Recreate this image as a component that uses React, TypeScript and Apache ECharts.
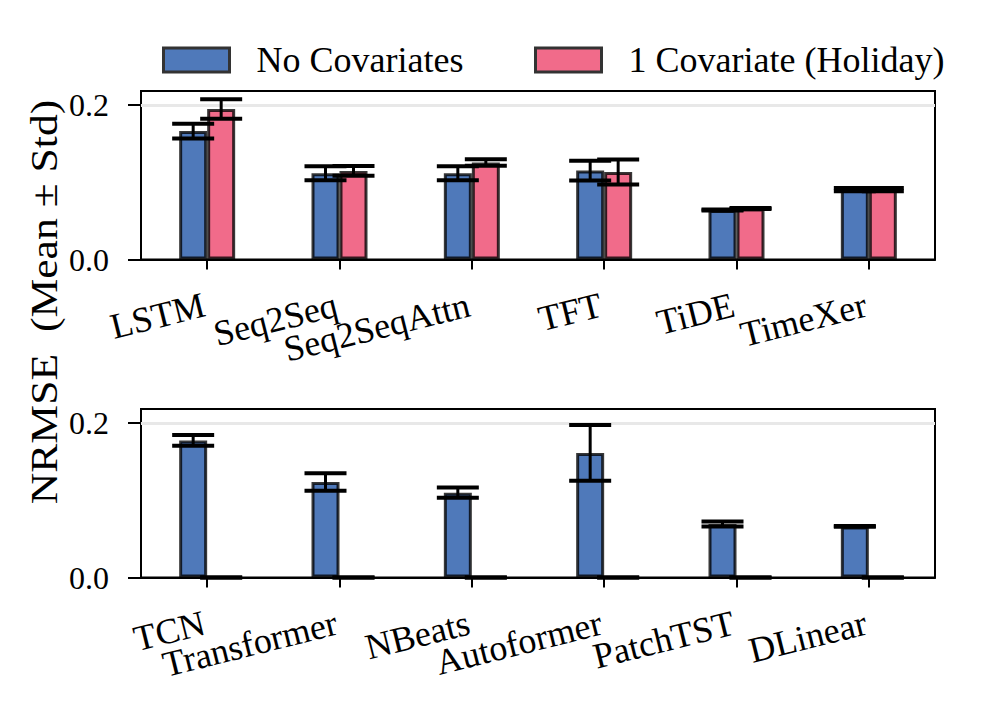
import React, { useEffect, useRef } from "react";
import * as echarts from "echarts";

const topCategories = ["LSTM", "Seq2Seq", "Seq2SeqAttn", "TFT", "TiDE", "TimeXer"];
const topNoCovMean = [0.166, 0.1115, 0.1115, 0.115, 0.064, 0.0902];
const topNoCovStd = [0.0096, 0.009, 0.009, 0.0128, 0.0006, 0.0021];
const topHolidayMean = [0.1945, 0.1145, 0.1255, 0.113, 0.066, 0.0902];
const topHolidayStd = [0.0125, 0.0064, 0.0042, 0.0162, 0.0006, 0.0021];

const bottomCategories = ["TCN", "Transformer", "NBeats", "Autoformer", "PatchTST", "DLinear"];
const bottomNoCovMean = [0.1772, 0.1233, 0.1097, 0.161, 0.0692, 0.066];
const bottomNoCovStd = [0.007, 0.0113, 0.0067, 0.036, 0.0032, 0.0005];
const bottomHolidayMean = [0, 0, 0, 0, 0, 0];
const bottomHolidayStd = [0, 0, 0, 0, 0, 0];

const yTicks = [0, 0.2];
const seriesNames = ["No Covariates", "1 Covariate (Holiday)"];
const yLabel = "NRMSE\u00a0 (Mean \u00b1 Std)";

const FONT = "'Liberation Serif', 'DejaVu Serif', serif";
const BLUE = "#4f79ba";
const PINK = "#f16b8a";
const EDGE = "rgba(0,0,0,0.78)";
const BAR_W = 28;
const Y_MAX = 0.2178;

function errorSeries(means: number[], stds: number[], offset: number, axisIndex: number) {
  return {
    type: "custom",
    xAxisIndex: axisIndex,
    yAxisIndex: axisIndex,
    silent: true,
    z: 10,
    clip: false,
    data: means.map((m, i) => [i, m - stds[i], m + stds[i]]),
    encode: { x: 0, y: [1, 2] },
    renderItem: (params: any, api: any) => {
      const idx = api.value(0);
      const lo = api.coord([idx, api.value(1)]);
      const hi = api.coord([idx, api.value(2)]);
      const cx = lo[0] + offset;
      const half = 21;
      return {
        type: "group",
        children: [
          { type: "line", shape: { x1: cx, y1: hi[1], x2: cx, y2: lo[1] }, style: { stroke: "#000", lineWidth: 3 } },
          { type: "line", shape: { x1: cx - half, y1: hi[1], x2: cx + half, y2: hi[1] }, style: { stroke: "#000", lineWidth: 4 } },
          { type: "line", shape: { x1: cx - half, y1: lo[1], x2: cx + half, y2: lo[1] }, style: { stroke: "#000", lineWidth: 4 } },
        ],
      };
    },
  };
}

function barSeries(name: string, data: number[], color: string, axisIndex: number, withGrid: boolean) {
  const s: any = {
    name,
    type: "bar",
    xAxisIndex: axisIndex,
    yAxisIndex: axisIndex,
    data,
    barWidth: BAR_W,
    barGap: "0%",
    itemStyle: { color, borderColor: EDGE, borderWidth: 3 },
    z: 3,
  };
  if (withGrid) {
    s.markLine = {
      silent: true,
      symbol: ["none", "none"],
      label: { show: false },
      lineStyle: { color: "#e8e8e8", width: 3, type: "solid" },
      data: [{ yAxis: 0.2 }],
      z: 1,
    };
  }
  return s;
}

function xAxisCfg(cats: string[], gridIndex: number) {
  return {
    type: "category",
    gridIndex,
    data: cats,
    axisLine: { show: true, lineStyle: { color: "#000", width: 2 } },
    axisTick: { show: true, alignWithLabel: true, length: 10, lineStyle: { color: "#000", width: 2 } },
    axisLabel: {
      interval: 0,
      rotate: 14,
      margin: 44,
      fontSize: 36,
      fontFamily: FONT,
      color: "#000",
      padding: [0, 3, 0, 0],
    },
    splitLine: { show: false },
  };
}

function yAxisCfg(gridIndex: number) {
  return {
    type: "value",
    gridIndex,
    min: 0,
    max: Y_MAX,
    interval: 0.2,
    axisLine: { show: true, lineStyle: { color: "#000", width: 2 } },
    axisTick: { show: true, length: 13, customValues: yTicks, lineStyle: { color: "#000", width: 2 } },
    axisLabel: {
      customValues: yTicks,
      formatter: (v: number) => (yTicks.some((t) => Math.abs(t - v) < 1e-9) ? v.toFixed(1) : ""),
      fontSize: 32,
      fontFamily: FONT,
      color: "#000",
      margin: 32,
    },
    splitLine: { show: false },
  };
}

function legendCfg(name: string, left: number) {
  return {
    data: [name],
    left,
    top: 37,
    icon: "rect",
    itemWidth: 66,
    itemHeight: 24,
    itemStyle: { borderColor: "#333", borderWidth: 3 },
    textStyle: { fontSize: 36, fontFamily: FONT, color: "#000", padding: [0, 0, 0, 22] },
    selectedMode: false,
  };
}

export default function App() {
  const ref = useRef<HTMLDivElement>(null);
  useEffect(() => {
    if (!ref.current) return;
    const chart = echarts.init(ref.current, null, { renderer: "svg" });
    const option: any = {
      animation: false,
      backgroundColor: "#fff",
      grid: [
        { left: 141, width: 794, top: 91, height: 168.5, show: true, borderColor: "#000", borderWidth: 2, backgroundColor: "transparent" },
        { left: 141, width: 794, top: 409, height: 168.5, show: true, borderColor: "#000", borderWidth: 2, backgroundColor: "transparent" },
      ],
      legend: [legendCfg(seriesNames[0], 157), legendCfg(seriesNames[1], 529)],
      xAxis: [xAxisCfg(topCategories, 0), xAxisCfg(bottomCategories, 1)],
      yAxis: [yAxisCfg(0), yAxisCfg(1)],
      graphic: [
        {
          type: "text",
          x: 45,
          y: 302,
          rotation: Math.PI / 2,
          scaleX: 1.18,
          style: {
            text: yLabel,
            fontSize: 37,
            fontFamily: FONT,
            fill: "#000",
            textAlign: "center",
            textVerticalAlign: "middle",
          },
        },
      ],
      series: [
        barSeries(seriesNames[0], topNoCovMean, BLUE, 0, true),
        barSeries(seriesNames[1], topHolidayMean, PINK, 0, false),
        barSeries(seriesNames[0], bottomNoCovMean, BLUE, 1, true),
        barSeries(seriesNames[1], bottomHolidayMean, PINK, 1, false),
        errorSeries(topNoCovMean, topNoCovStd, -BAR_W / 2, 0),
        errorSeries(topHolidayMean, topHolidayStd, BAR_W / 2, 0),
        errorSeries(bottomNoCovMean, bottomNoCovStd, -BAR_W / 2, 1),
        errorSeries(bottomHolidayMean, bottomHolidayStd, BAR_W / 2, 1),
      ],
    };
    chart.setOption(option);
    return () => chart.dispose();
  }, []);
  return (
    <div
      ref={ref}
      style={{ position: "fixed", left: 0, top: 0, width: 996, height: 719, background: "#fff" }}
    />
  );
}
